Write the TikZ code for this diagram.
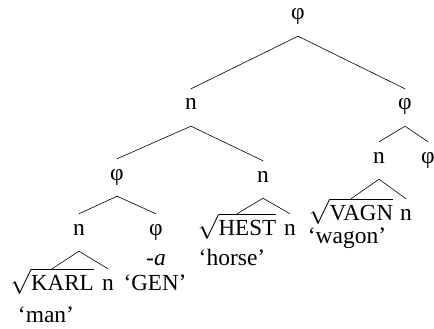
\documentclass[tikz,border=0pt]{standalone}
\usepackage{fontspec}
\setmainfont{Liberation Serif}
\usetikzlibrary{positioning}

\tikzset{
  lab/.style={inner sep=0pt, text height=21pt, text depth=16pt, anchor=base},
  gloss/.style={inner sep=0pt, anchor=base},
  branch/.style={line width=0.6pt},
}
\newcommand{\capsc}[1]{{\fontsize{23}{27}\selectfont #1}}
\newcommand{\rootw}[1]{$\sqrt{\mbox{\capsc{#1}}}$}

\begin{document}
\begin{tikzpicture}[x=1pt, y=-1pt, font=\fontsize{23.5}{28}\selectfont]
  \useasboundingbox (0,0) rectangle (434,329);

  % tree labels
  \node[lab] (top) at (298,20) {φ};
  \node[lab] (nA) at (191,110) {n};
  \node[lab] (phR) at (405,110) {φ};
  \node[lab] (phL) at (117,180) {φ};
  \node[lab] (nB) at (263,182) {n};
  \node[lab] (nR) at (379,163) {n};
  \node[lab] (phRR) at (428,163) {φ};
  \node[lab] (nK) at (79,235) {n};
  \node[lab] (phG) at (156,235) {φ};

  % leaves
  \node[lab] (karl) at (52,290) {\rootw{KARL}};
  \node[lab] (nKs) at (108,290) {n};
  \node[lab] (hest) at (237,235) {\rootw{HEST}};
  \node[lab] (nHs) at (290,235) {n};
  \node[lab] (vagn) at (351,220) {\rootw{VAGN}};
  \node[lab] (nVs) at (406,220) {n};

  % glosses
  \node[gloss] (man) at (46,322) {‘man’};
  \node[gloss] (sfx) at (156,265) {\textit{-a}};
  \node[gloss] (gen) at (155,290) {‘\capsc{GEN}’};
  \node[gloss] (horse) at (232,265) {‘horse’};
  \node[gloss] (wagon) at (347,243) {‘wagon’};

  % branches
  \draw[branch] (nA.north) -- (top.south) -- (phR.north);
  \draw[branch] (phL.north) -- (nA.south) -- (nB.north);
  \draw[branch] (nR.north) -- (phR.south) -- (phRR.north);
  \draw[branch] (nK.north) -- (phL.south) -- (phG.north);
  \draw[branch] (karl.north) -- (nK.south) -- (nKs.north);
  \draw[branch] (hest.north) -- (nB.south) -- (nHs.north);
  \draw[branch] (vagn.north) -- (nR.south) -- (nVs.north);
\end{tikzpicture}
\end{document}
